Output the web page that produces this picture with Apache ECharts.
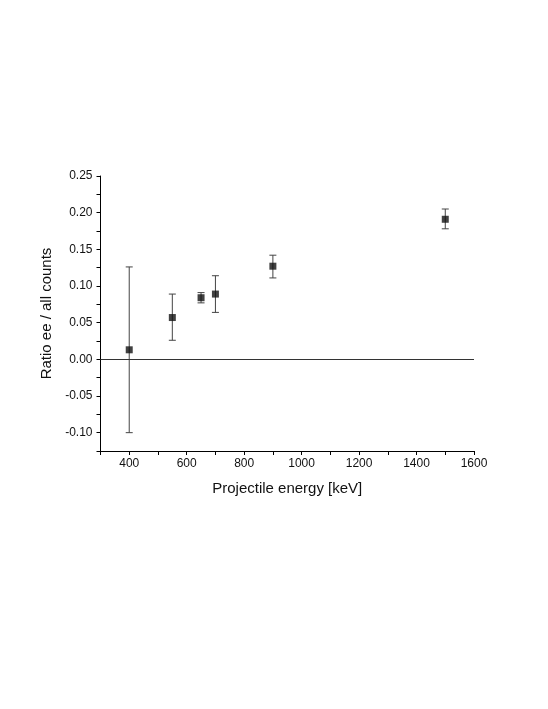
<!DOCTYPE html>
<html>
<head>
<meta charset="utf-8">
<script src="https://cdn.jsdelivr.net/npm/echarts@6/dist/echarts.min.js"></script>
<style>
  html, body { margin: 0; padding: 0; background: #fff; }
  #main { width: 548px; height: 709px; }
</style>
</head>
<body>
<div id="main"></div>
<script>
// data
const energy = [400, 550, 650, 700, 900, 1500]
const ratio = [0.013, 0.057, 0.084, 0.089, 0.127, 0.191]
const errLow = [-0.100, 0.026, 0.077, 0.064, 0.111, 0.178]
const errHigh = [0.126, 0.089, 0.091, 0.114, 0.142, 0.205]

const myChart = echarts.init(document.getElementById('main'))

const points = energy.map((x, i) => [x, ratio[i]])
const bars = energy.map((x, i) => [x, errLow[i], errHigh[i]])

const font = 'Liberation Sans, Arial, sans-serif'

const option = {
  animation: false,
  grid: { left: 100.5, right: 74, top: 176, bottom: 258 },
  xAxis: {
    type: 'value',
    min: 300,
    max: 1600,
    interval: 100,
    name: 'Projectile energy [keV]',
    nameLocation: 'middle',
    nameGap: 30,
    nameTextStyle: { fontFamily: font, fontSize: 15, color: '#111' },
    axisLine: { onZero: false, lineStyle: { color: '#000', width: 1 } },
    axisTick: { show: true, length: 4, lineStyle: { color: '#000' } },
    axisLabel: {
      fontFamily: font, fontSize: 12, color: '#111', margin: 7,
      formatter: v => (v % 200 === 0 && v !== 300 ? String(v) : '')
    },
    splitLine: { show: false }
  },
  yAxis: {
    type: 'value',
    min: -0.125,
    max: 0.25,
    interval: 0.025,
    name: 'Ratio ee / all counts',
    nameLocation: 'middle',
    nameGap: 38,
    nameTextStyle: { fontFamily: font, fontSize: 15, color: '#111' },
    axisLine: { show: true, onZero: false, lineStyle: { color: '#000', width: 1 } },
    axisTick: { show: true, length: 4, lineStyle: { color: '#000' } },
    axisLabel: {
      fontFamily: font, fontSize: 12, color: '#111', margin: 8,
      formatter: v => {
        const k = Math.round(v * 1000)
        if (k % 50 !== 0 || k === -125) return ''
        return (k / 1000).toFixed(2)
      }
    },
    splitLine: { show: false }
  },
  series: [
    {
      type: 'custom',
      data: bars,
      renderItem: (params, api) => {
        const x = api.value(0)
        const lo = api.coord([x, api.value(1)])
        const hi = api.coord([x, api.value(2)])
        const w = 3.5
        const style = { stroke: '#444', lineWidth: 1 }
        return {
          type: 'group',
          children: [
            { type: 'line', shape: { x1: lo[0], y1: lo[1], x2: hi[0], y2: hi[1] }, style },
            { type: 'line', shape: { x1: lo[0] - w, y1: lo[1], x2: lo[0] + w, y2: lo[1] }, style },
            { type: 'line', shape: { x1: hi[0] - w, y1: hi[1], x2: hi[0] + w, y2: hi[1] }, style }
          ]
        }
      },
      z: 2
    },
    {
      type: 'scatter',
      data: points,
      symbol: 'rect',
      symbolSize: 7,
      itemStyle: { color: '#111' },
      markLine: {
        silent: true,
        symbol: 'none',
        label: { show: false },
        lineStyle: { color: '#333', width: 1, type: 'solid' },
        data: [{ yAxis: 0 }]
      },
      z: 3
    }
  ]
}

myChart.setOption(option)
</script>
</body>
</html>
